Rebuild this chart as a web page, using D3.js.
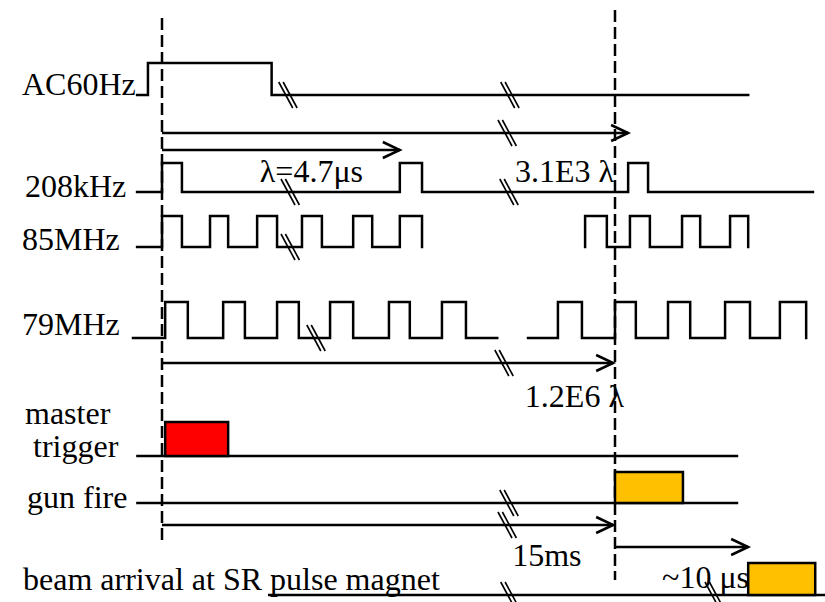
<!DOCTYPE html>
<html>
<head>
<meta charset="utf-8">
<script src="https://cdnjs.cloudflare.com/ajax/libs/d3/7.8.5/d3.min.js"></script>
<style>
  body { margin: 0; background: #fff; }
  text { font-family: "Liberation Serif", "Times New Roman", serif; font-size: 32px; fill: #000; }
</style>
</head>
<body>
<div id="container"></div>
<script>
// time axis: 0 = master trigger (first dashed line), 100 = gun fire (second dashed line)
const rowNames = ["AC60Hz", "208kHz", "85MHz", "79MHz", "master", "trigger", "gun fire", "beam arrival at SR pulse magnet"];

// [time, level] points, drawn as steps
const ac60Hz = [[-5.5,0],[-3.1,1],[24.2,0],[129.4,0]];
const khz208 = [[-5.5,0],[0,1],[4.4,0],[52.5,1],[57.4,0],[102.9,1],[107.3,0],[143.7,0]];
const mhz85a = [[-5.5,0],[0,1],[4.4,0],[10.6,1],[14.6,0],[21.0,1],[25.4,0],[30.9,1],[35.3,0],[42.2,1],[46.4,0],[52.5,1],[57.4,0]];
const mhz85b = [[93.4,0],[93.4,1],[98.2,0],[103.3,1],[107.7,0],[114.8,1],[118.8,0],[125.4,1],[129.4,0]];
const mhz79a = [[-6.4,0],[0.7,1],[5.7,0],[13.5,1],[18.3,0],[25.4,1],[30.2,0],[37.1,1],[42.2,0],[50.1,1],[54.7,0],[61.8,1],[67.1,0],[74.0,0]];
const mhz79b = [[80.8,0],[87.4,1],[92.7,0],[100,1],[104.6,0],[111.7,1],[116.6,0],[124.3,1],[129.8,0],[136.4,1],[142.2,0]];

// flat lines with one pulse block: [row, line start, line end, pulse start, pulse end]
const blocks = [["trig",-5.7,127.2,0.7,14.6],["gun",-5.7,127.2,100,115.0],["beam",23.4,146.4,129.4,144.2]];
const blockColors = ["#ff0000","#ffc000","#ffc000"];

// arrows: [row, from, to]
const arrows = [["a1",0,102.9],["a2",0,52.5],["a3",0,99.6],["a4",0,99.6],["a5",100,129.4]];

// time breaks "//": [row, time]
const breaks = [["ac",27.8],["ac",76.8],["a1",76.2],["k208",28.3],["k208",76.6],["m85",28.3],
                ["m79",34.0],["a3",75.5],["gun",76.6],["a4",76.2],["beam",76.8],["beam",121.9]];

const notes = ["λ=4.7μs", "3.1E3 λ", "1.2E6 λ", "15ms", "~10 μs"];
const noteTimes = [21.6, 77.9, 80.1, 77.3, 110.4];
const markers = [0, 100];

const w = 825, h = 602;
const sw = 2.5;
// baseline / high-level y of each row
const rowY = {ac:[95,63], k208:[192,163], m85:[247,216], m79:[338,302],
              trig:[456,422], gun:[503,472], beam:[595,563],
              a1:[133], a2:[150], a3:[363], a4:[525], a5:[547]};

const x = d3.scaleLinear().domain([0,100]).range([162,615]);

const svg = d3.select("#container").append("svg")
  .attr("width", w).attr("height", h);

// dashed marker lines
svg.selectAll("line.marker")
  .data(markers)
  .enter().append("line")
  .attr("class","marker")
  .attr("x1", d => x(d)).attr("x2", d => x(d))
  .attr("y1", (d,i) => i == 0 ? 18 : 10)
  .attr("y2", (d,i) => i == 0 ? 545 : 580)
  .attr("stroke","#000").attr("stroke-width", sw)
  .attr("stroke-dasharray","12,5");

function stepPath(pts, row) {
  const yy = d3.scaleLinear().domain([0,1]).range(rowY[row]);
  return d3.line().x(d => x(d[0])).y(d => yy(d[1])).curve(d3.curveStepAfter)(pts);
}

const waves = [[ac60Hz,"ac"],[khz208,"k208"],[mhz85a,"m85"],[mhz85b,"m85"],[mhz79a,"m79"],[mhz79b,"m79"]];
svg.selectAll("path.wave")
  .data(waves)
  .enter().append("path")
  .attr("class","wave")
  .attr("d", d => stepPath(d[0], d[1]))
  .attr("fill","none").attr("stroke","#000").attr("stroke-width", sw)
  .attr("stroke-linejoin","miter").attr("stroke-linecap","square");

// block rows
svg.selectAll("line.base")
  .data(blocks)
  .enter().append("line")
  .attr("class","base")
  .attr("x1", d => x(d[1])).attr("x2", d => x(d[2]))
  .attr("y1", d => rowY[d[0]][0]).attr("y2", d => rowY[d[0]][0])
  .attr("stroke","#000").attr("stroke-width", sw);

svg.selectAll("rect.pulse")
  .data(blocks)
  .enter().append("rect")
  .attr("class","pulse")
  .attr("x", d => x(d[3]))
  .attr("y", d => rowY[d[0]][1])
  .attr("width", d => x(d[4]) - x(d[3]))
  .attr("height", d => rowY[d[0]][0] - rowY[d[0]][1])
  .attr("fill", (d,i) => blockColors[i])
  .attr("stroke","#000").attr("stroke-width", sw);

// arrows
svg.selectAll("line.arrow")
  .data(arrows)
  .enter().append("line")
  .attr("class","arrow")
  .attr("x1", d => x(d[1])).attr("x2", d => x(d[2]))
  .attr("y1", d => rowY[d[0]][0]).attr("y2", d => rowY[d[0]][0])
  .attr("stroke","#000").attr("stroke-width", sw);

svg.selectAll("path.head")
  .data(arrows)
  .enter().append("path")
  .attr("class","head")
  .attr("d", d => {
    const ex = x(d[2]), ey = rowY[d[0]][0];
    return "M" + (ex-17) + "," + (ey-8) + "L" + ex + "," + ey + "L" + (ex-17) + "," + (ey+8);
  })
  .attr("fill","none").attr("stroke","#000").attr("stroke-width", sw);

// break marks
const br = svg.selectAll("g.brk")
  .data(breaks)
  .enter().append("g")
  .attr("class","brk")
  .attr("transform", d => "translate(" + x(d[1]) + "," + rowY[d[0]][0] + ")");
br.selectAll("line")
  .data([-2.2, 2.2])
  .enter().append("line")
  .attr("x1", o => o - 7).attr("y1", -13)
  .attr("x2", o => o + 7).attr("y2", 13)
  .attr("stroke","#000").attr("stroke-width", 1.6);

// row labels
const labelPos = [[22,95],[25,197],[22,250],[22,335],[25,424],[33,457],[27,508],[23,590]];
svg.selectAll("text.label")
  .data(rowNames)
  .enter().append("text")
  .attr("class","label")
  .attr("x", (d,i) => labelPos[i][0])
  .attr("y", (d,i) => labelPos[i][1])
  .text(d => d);

// annotations
const noteY = [182, 182, 407, 566, 588];
svg.selectAll("text.note")
  .data(notes)
  .enter().append("text")
  .attr("class","note")
  .attr("x", (d,i) => x(noteTimes[i]))
  .attr("y", (d,i) => noteY[i])
  .text(d => d);
</script>
</body>
</html>
